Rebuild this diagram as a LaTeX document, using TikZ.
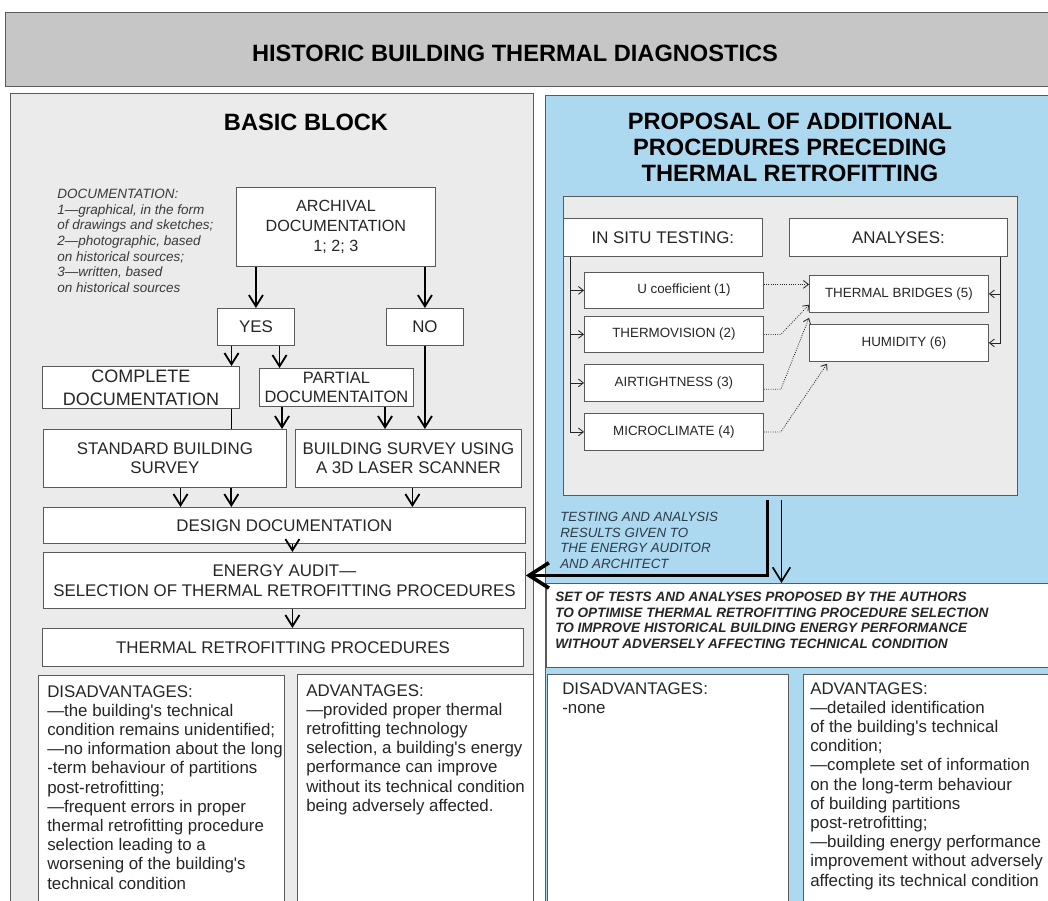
\documentclass[tikz,border=0pt]{standalone}
\usepackage{fontspec}
\setmainfont{Liberation Sans}[Ligatures=TeXOff]
\usepackage{xcolor}
\definecolor{HeadGray}{HTML}{C6C6C6}
\definecolor{PanelGray}{HTML}{EBEBEB}
\definecolor{PanelBlue}{HTML}{ADD9F0}
\definecolor{LineGray}{HTML}{5A5A5A}
\definecolor{InkDark}{HTML}{262626}
\definecolor{NoteGray}{HTML}{3A3A3A}
\definecolor{NoteSlate}{HTML}{2E3A46}
\usetikzlibrary{arrows.meta, positioning}
\tikzset{
  sz/.style 2 args={anchor=north west, minimum width=#1*0.025cm, minimum height=#2*0.025cm},
  bx/.style={rectangle, draw=LineGray, fill=white, line width=0.6pt, inner sep=0pt,
             align=center, text=InkDark, font=\fontsize{12}{13.8}\selectfont},
  sbx/.style={bx, font=\fontsize{9.5}{11}\selectfont},
  panel/.style={rectangle, draw=LineGray, line width=0.7pt, inner sep=0pt, fill=#1},
  head/.style={align=center, inner sep=0pt, text=black, font=\fontsize{16.8}{19}\selectfont\bfseries},
  note/.style={align=left, inner sep=0pt, anchor=north west, text=NoteGray,
               font=\fontsize{9.6}{11.1}\selectfont\itshape},
  txt/.style={align=left, inner sep=0pt, anchor=north west, text=InkDark,
              font=\fontsize{12}{13.65}\selectfont},
  arr/.style={-{Straight Barb[length=8pt, width=10pt]}, line width=1.3pt},
  conn/.style={line width=1.3pt},
  sconn/.style={line width=0.6pt, color=InkDark},
  sarr/.style={-{Straight Barb[length=3.5pt, width=5.5pt]}, line width=0.6pt, color=InkDark},
  darr/.style={sarr, densely dotted, color=InkDark},
  bigarr/.style={-{Straight Barb[length=14pt, width=18pt]}, line width=2.6pt},
  downarr/.style={-{Straight Barb[length=10pt, width=12.5pt]}, line width=1.2pt},
}
\begin{document}
\begin{tikzpicture}[x=0.025cm, y=-0.025cm]
  \path[use as bounding box, fill=white] (0,0) rectangle (1048,901);

  % Header
  \node[panel=HeadGray, sz={1060}{74}] (hdr) at (5,12) {};
  \node[head] (hdrtxt) at (515,53) {HISTORIC BUILDING THERMAL DIAGNOSTICS};

  % Basic block
  \node[panel=PanelGray, sz={523}{820}] (basic) at (10,93) {};
  \node[head] (basictl) at (306,122) {BASIC BLOCK};
  \node[note] (docs) at (57,189)
    {DOCUMENTATION:\\1—graphical, in the form\\of drawings and sketches;\\2—photographic, based\\on historical sources;\\3—written, based\\on historical sources};

  \node[bx, sz={199}{79}, font=\fontsize{11.5}{13.9}\selectfont] (arch) at (236,187)
    {ARCHIVAL\\DOCUMENTATION\\1; 2; 3};
  \node[bx, sz={77}{37}] (yes) at (217,308) {YES};
  \node[bx, sz={77}{37}] (no) at (386,308) {NO};

  \node[bx, sz={197}{42}, font=\fontsize{12.8}{16.3}\selectfont] (cmpl) at (42,366)
    {COMPLETE\\DOCUMENTATION};
  \node[bx, sz={154}{38}, font=\fontsize{11.7}{14.2}\selectfont] (prt) at (259,368)
    {PARTIAL\\DOCUMENTAITON};

  \node[bx, sz={243}{58}, font=\fontsize{12}{13.5}\selectfont] (std) at (43,429)
    {STANDARD BUILDING\\SURVEY};
  \node[bx, sz={226}{58}, font=\fontsize{12}{13.5}\selectfont] (lsr) at (295,429)
    {BUILDING SURVEY USING\\A 3D LASER SCANNER};

  \node[bx, sz={482}{36}] (dsg) at (43,507) {DESIGN DOCUMENTATION};
  \node[bx, sz={482}{56}, font=\fontsize{12}{14.2}\selectfont] (enr) at (43,552)
    {ENERGY AUDIT—\\SELECTION OF THERMAL RETROFITTING PROCEDURES};
  \node[bx, sz={481}{38}] (rtr) at (42,628) {THERMAL RETROFITTING PROCEDURES};

  \node[bx, sz={246}{240}] (disl) at (38,675) {};
  \node[txt] (disltxt) at (47,685)
    {DISADVANTAGES:\\—the building's technical\\condition remains unidentified;\\—no information about the long\\-term behaviour of partitions\\post-retrofitting;\\—frequent errors in proper\\thermal retrofitting procedure\\selection leading to a\\worsening of the building's\\technical condition};
  \node[bx, sz={236}{240}] (advl) at (297,674) {};
  \node[txt] (advltxt) at (306,684)
    {ADVANTAGES:\\—provided proper thermal\\retrofitting technology\\selection, a building's energy\\performance can improve\\without its technical condition\\being adversely affected.};

  % Proposal block
  \node[panel=PanelBlue, sz={520}{820}] (prop) at (545,95) {};
  \node[head, font=\fontsize{16.8}{18.5}\selectfont\bfseries] (proptl) at (790,147)
    {PROPOSAL OF ADDITIONAL\\PROCEDURES PRECEDING\\THERMAL RETROFITTING};
  \node[panel=PanelGray, sz={454}{299}] (inner) at (563,196) {};

  \node[bx, sz={199}{38}] (ins) at (563,218) {IN SITU TESTING:};
  \node[bx, sz={218}{38}] (ana) at (789,218) {ANALYSES:};

  \node[sbx, sz={179}{36}] (ucf) at (584,272) {\hspace{20\dimexpr0.025cm\relax}U coefficient (1)};
  \node[sbx, sz={179}{36}] (thm) at (584,316) {THERMOVISION (2)};
  \node[sbx, sz={179}{37}] (air) at (584,364) {AIRTIGHTNESS (3)};
  \node[sbx, sz={179}{37}] (mic) at (584,413) {MICROCLIMATE (4)};

  \node[sbx, sz={179}{37}] (brg) at (809,275) {THERMAL BRIDGES (5)};
  \node[sbx, sz={179}{37}] (hum) at (809,324) {\hspace{10\dimexpr0.025cm\relax}HUMIDITY (6)};

  \node[note, font=\fontsize{9.5}{11}\selectfont\itshape, text=NoteSlate] (res) at (560,512)
    {TESTING AND ANALYSIS\\RESULTS GIVEN TO\\THE ENERGY AUDITOR\\AND ARCHITECT};

  \node[bx, sz={520}{84}] (setb) at (546,583) {};
  \node[note, font=\fontsize{9.65}{11}\selectfont\bfseries\itshape, text=InkDark] (setbtxt) at (555,592)
    {SET OF TESTS AND ANALYSES PROPOSED BY THE AUTHORS\\TO OPTIMISE THERMAL RETROFITTING PROCEDURE SELECTION\\TO IMPROVE HISTORICAL BUILDING ENERGY PERFORMANCE\\WITHOUT ADVERSELY AFFECTING TECHNICAL CONDITION};

  \node[bx, sz={241}{240}] (disr) at (547,674) {};
  \node[txt] (disrtxt) at (562,682) {DISADVANTAGES:\\-none};
  \node[bx, sz={250}{240}] (advr) at (803,674) {};
  \node[txt] (advrtxt) at (810,682)
    {ADVANTAGES:\\—detailed identification\\of the building's technical\\condition;\\—complete set of information\\on the long-term behaviour\\of building partitions\\post-retrofitting;\\—building energy performance\\improvement without adversely\\affecting its technical condition};

  % Arrows, basic block
  \draw[arr] (yes.north |- arch.south) -- (yes.north);
  \draw[arr] (no.north |- arch.south) -- (no.north);
  \draw[arr] ([xshift=-0.61cm]yes.south) -- ([xshift=-0.61cm]yes.south |- cmpl.north);
  \draw[arr] ([xshift=0.59cm]yes.south) -- ([xshift=0.59cm]yes.south |- prt.north);
  \draw[conn] ([xshift=-0.61cm]yes.south |- cmpl.south) -- ([xshift=-0.61cm]yes.south |- std.north);
  \draw[arr] ([xshift=0.575cm]prt.south west) -- ([xshift=0.575cm]prt.south west |- std.north);
  \draw[arr] ([xshift=3.15cm]prt.south west) -- ([xshift=3.15cm]prt.south west |- lsr.north);
  \draw[arr] (no.south) -- (no.south |- lsr.north);
  \draw[arr] ([xshift=0.39cm]std.south) -- ([xshift=0.39cm]std.south |- dsg.north);
  \draw[arr] ([xshift=1.66cm]std.south) -- ([xshift=1.66cm]std.south |- dsg.north);
  \draw[arr] ([xshift=0.1cm]lsr.south) -- ([xshift=0.1cm]lsr.south |- dsg.north);
  \draw[arr] ([xshift=0.2cm]dsg.south) -- ([xshift=0.2cm]dsg.south |- enr.north);
  \draw[arr] ([xshift=0.2cm]enr.south) -- ([xshift=0.2cm]enr.south |- rtr.north);

  % Arrows, testing block
  \draw[sconn] ([xshift=0.175cm]ins.south west) -- ([xshift=0.175cm]ins.south west |- mic.west);
  \foreach \t in {ucf, thm, air, mic}
    \draw[sarr] ([xshift=0.175cm]ins.south west |- \t.west) -- (\t.west);
  \draw[sconn] ([xshift=-0.175cm]ana.south east) -- ([xshift=-0.175cm]ana.south east |- hum.east);
  \foreach \t in {brg, hum}
    \draw[sarr] ([xshift=-0.175cm]ana.south east |- \t.east) -- (\t.east);

  \draw[darr] ([yshift=0.15cm]ucf.east) -- ([yshift=0.15cm]ucf.east -| brg.west);
  \draw[darr] (thm.east) -- ++(17,0) -- ([yshift=-0.27cm]brg.west);
  \draw[darr] ([yshift=-0.16cm]air.east) -- ++(17,0) -- ([yshift=-0.125cm]brg.south west);
  \draw[darr] (mic.east) -- ++(17,0) -- ([xshift=0.45cm,yshift=-0.05cm]hum.south west);

  % Results to the auditor
  \draw[bigarr] ([xshift=-0.575cm,yshift=-0.1cm]inner.south) |- ([yshift=0.125cm]enr.east);
  \draw[downarr] ([xshift=-0.225cm,yshift=-0.1cm]inner.south) -- ([xshift=-0.225cm]inner.south |- setb.north);

\end{tikzpicture}
\end{document}
